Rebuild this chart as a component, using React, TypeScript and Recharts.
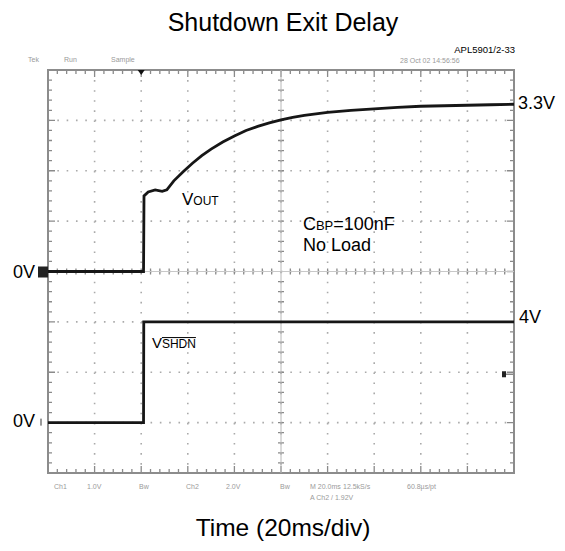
import {
  LineChart,
  Line,
  XAxis,
  YAxis,
  CartesianGrid,
  ReferenceLine,
  ReferenceDot,
  ReferenceArea,
} from "recharts";

// scope trace readings: time in ms, values in volts
const VOUT_T = [0, 41, 41.2, 43, 46, 49, 51, 54, 58, 62, 66, 70, 75, 80, 85, 90, 95, 100, 105, 110, 115, 120, 130, 140, 150, 160, 170, 180, 190, 200];
const VOUT_V = [0, 0, 1.5, 1.58, 1.62, 1.59, 1.62, 1.8, 1.98, 2.15, 2.3, 2.43, 2.57, 2.69, 2.8, 2.88, 2.95, 3.01, 3.06, 3.1, 3.13, 3.16, 3.2, 3.23, 3.26, 3.28, 3.29, 3.3, 3.31, 3.32];
const VSHDN_T = [0, 41, 41.1, 200];
const VSHDN_V = [0, 0, 4, 4];

// scope settings
const CH1_V_PER_DIV = 1;
const CH1_ZERO_DIV = 0;
const CH2_V_PER_DIV = 2;
const CH2_ZERO_DIV = -3;
const TRIG_TIME = 40;
const TRIG_LEVEL = 1.92;

const X_DOMAIN = [0, 200];
const Y_DOMAIN = [-4, 4];
const X_MAJOR = [0, 20, 40, 60, 80, 100, 120, 140, 160, 180, 200];
const Y_MAJOR = [-4, -3, -2, -1, 0, 1, 2, 3, 4];

const W = 565;
const H = 551;
const MARGIN = { top: 70, right: 51, bottom: 78, left: 48 };

const voutData = VOUT_T.map((t, i) => ({ t, d: CH1_ZERO_DIV + VOUT_V[i] / CH1_V_PER_DIV }));
const vshdnData = VSHDN_T.map((t, i) => ({ t, d: CH2_ZERO_DIV + VSHDN_V[i] / CH2_V_PER_DIV }));

const GRID = "#aaaaaa";
const TICK = "#8a8a8a";
const SCOPE_TXT = "#9a9a9a";

// graticule frame: border plus the 5-per-division minor ticks on the edges and centre axes
function Frame(props: any) {
  const x = Number(props.x);
  const y = Number(props.y);
  const width = Number(props.width);
  const height = Number(props.height);
  const nx = (X_MAJOR.length - 1) * 5;
  const ny = (Y_MAJOR.length - 1) * 5;
  const cx = x + width / 2;
  const cy = y + height / 2;
  let d = "";
  for (let i = 1; i < nx; i++) {
    const px = (x + (i / nx) * width).toFixed(2);
    const len = i % 5 === 0 ? 7 : 4;
    d += `M${px},${y} v${len} M${px},${y + height} v${-len} `;
    if (i !== nx / 2) d += `M${px},${cy - 3} v6 `;
  }
  for (let j = 1; j < ny; j++) {
    const py = (y + (j / ny) * height).toFixed(2);
    const len = j % 5 === 0 ? 7 : 4;
    d += `M${x},${py} h${len} M${x + width},${py} h${-len} `;
    if (j !== ny / 2) d += `M${cx - 3},${py} h6 `;
  }
  return (
    <g>
      <path d={d} stroke={TICK} strokeWidth={1.3} fill="none" />
      <rect x={x} y={y} width={width} height={height} fill="none" stroke="#8c8c8c" strokeWidth={2} />
    </g>
  );
}

export default function App() {
  return (
    <div
      style={{
        position: "absolute",
        left: 0,
        top: 0,
        width: W,
        height: H,
        background: "#fff",
        fontFamily: "'Liberation Sans', Arial, sans-serif",
      }}
    >
      <LineChart width={W} height={H} margin={MARGIN}>
        <XAxis type="number" dataKey="t" domain={X_DOMAIN} ticks={X_MAJOR} hide allowDataOverflow />
        <YAxis type="number" domain={Y_DOMAIN} ticks={Y_MAJOR} hide allowDataOverflow />
        <CartesianGrid vertical={false} stroke={GRID} strokeWidth={1.6} strokeDasharray="1.6 7.72" />
        <CartesianGrid horizontal={false} stroke={GRID} strokeWidth={1.6} strokeDasharray="1.6 8.48" />
        <ReferenceLine y={0} stroke="#c8c8c8" />
        <ReferenceLine x={100} stroke="#b8b8b8" />
        <ReferenceArea
          x1={X_DOMAIN[0]}
          x2={X_DOMAIN[1]}
          y1={Y_DOMAIN[0]}
          y2={Y_DOMAIN[1]}
          fill="none"
          shape={(p: any) => <Frame {...p} />}
        />

        <Line data={vshdnData} dataKey="d" type="linear" stroke="#161616" strokeWidth={2.8} dot={false} isAnimationActive={false} />
        <Line data={voutData} dataKey="d" type="linear" stroke="#161616" strokeWidth={2.8} dot={false} isAnimationActive={false} />

        {/* trigger position */}
        <ReferenceDot
          x={TRIG_TIME}
          y={4}
          shape={(p: any) => (
            <polygon points={`${p.cx - 3.5},${p.cy} ${p.cx + 3.5},${p.cy} ${p.cx},${p.cy + 5}`} fill="#111" />
          )}
        />
        {/* trigger level */}
        <ReferenceDot
          x={200}
          y={CH2_ZERO_DIV + TRIG_LEVEL / CH2_V_PER_DIV}
          shape={(p: any) => (
            <g>
              <rect x={p.cx - 12} y={p.cy - 3} width={4} height={6} fill="#222" />
              <line x1={p.cx - 8} x2={p.cx} y1={p.cy} y2={p.cy} stroke="#888" strokeWidth={1.5} />
            </g>
          )}
        />
        {/* channel ground markers */}
        <ReferenceDot
          x={0}
          y={CH1_ZERO_DIV}
          shape={(p: any) => <rect x={p.cx - 10} y={p.cy - 5} width={10} height={11} fill="#222" />}
        />
        <ReferenceDot
          x={0}
          y={CH2_ZERO_DIV}
          shape={(p: any) => <rect x={p.cx - 8} y={p.cy - 4} width={2} height={7} fill="#999" />}
        />

        <ReferenceLine
          y={CH1_ZERO_DIV + 3.3 / CH1_V_PER_DIV}
          stroke="none"
          label={{ value: "3.3V", position: "right", offset: 4, fontSize: 18, fill: "#000", dy: -3 }}
        />
        <ReferenceLine
          y={CH2_ZERO_DIV + 4 / CH2_V_PER_DIV}
          stroke="none"
          label={{ value: "4V", position: "right", offset: 5, fontSize: 18, fill: "#000", dy: -5 }}
        />
        <ReferenceLine
          y={CH1_ZERO_DIV}
          stroke="none"
          label={{ value: "0V", position: "left", offset: 13, fontSize: 18, fill: "#000" }}
        />
        <ReferenceLine
          y={CH2_ZERO_DIV}
          stroke="none"
          label={{ value: "0V", position: "left", offset: 13, fontSize: 18, fill: "#000", dy: -2 }}
        />

        <ReferenceDot
          x={57.5}
          y={1.32}
          shape={(p: any) => (
            <text x={p.cx} y={p.cy} fontSize={17} fill="#000">
              V<tspan fontSize={12}>OUT</tspan>
            </text>
          )}
        />
        <ReferenceDot
          x={109.4}
          y={0.82}
          shape={(p: any) => (
            <text x={p.cx} y={p.cy} fontSize={18} fill="#000">
              C<tspan fontSize={13}>BP</tspan>
              <tspan fontSize={18}>=100nF</tspan>
            </text>
          )}
        />
        <ReferenceDot
          x={109.4}
          y={0.41}
          shape={(p: any) => (
            <text x={p.cx} y={p.cy} fontSize={18} fill="#000">
              No Load
            </text>
          )}
        />
        <ReferenceDot
          x={44.6}
          y={-1.52}
          shape={(p: any) => (
            <g>
              <text x={p.cx} y={p.cy} fontSize={15} fill="#000">
                V<tspan fontSize={12}>SHDN</tspan>
              </text>
              <line x1={p.cx + 10} x2={p.cx + 44} y1={p.cy - 10.5} y2={p.cy - 10.5} stroke="#000" strokeWidth={1} />
            </g>
          )}
        />
      </LineChart>

      <svg width={W} height={H} style={{ position: "absolute", left: 0, top: 0, pointerEvents: "none" }}>
        <text x={283} y={31} textAnchor="middle" fontSize={25} fill="#000">
          Shutdown Exit Delay
        </text>
        <text x={515} y={53} textAnchor="end" fontSize={9.5} fill="#000">
          APL5901/2-33
        </text>
        <g fontSize={7} fill={SCOPE_TXT}>
          <text x={28} y={62}>Tek</text>
          <text x={64} y={62}>Run</text>
          <text x={111} y={62}>Sample</text>
          <text x={400} y={63}>28 Oct 02 14:56:56</text>
          <text x={54} y={489}>Ch1</text>
          <text x={87} y={489}>1.0V</text>
          <text x={139} y={489}>Bw</text>
          <text x={186} y={489}>Ch2</text>
          <text x={226} y={489}>2.0V</text>
          <text x={280} y={489}>Bw</text>
          <text x={310} y={489}>M 20.0ms</text>
          <text x={343} y={489}>12.5kS/s</text>
          <text x={407} y={489}>60.8µs/pt</text>
          <text x={310} y={500}>A  Ch2  /  1.92V</text>
        </g>
        <text x={283} y={536} textAnchor="middle" fontSize={24.5} fill="#000">
          Time (20ms/div)
        </text>
      </svg>
    </div>
  );
}
